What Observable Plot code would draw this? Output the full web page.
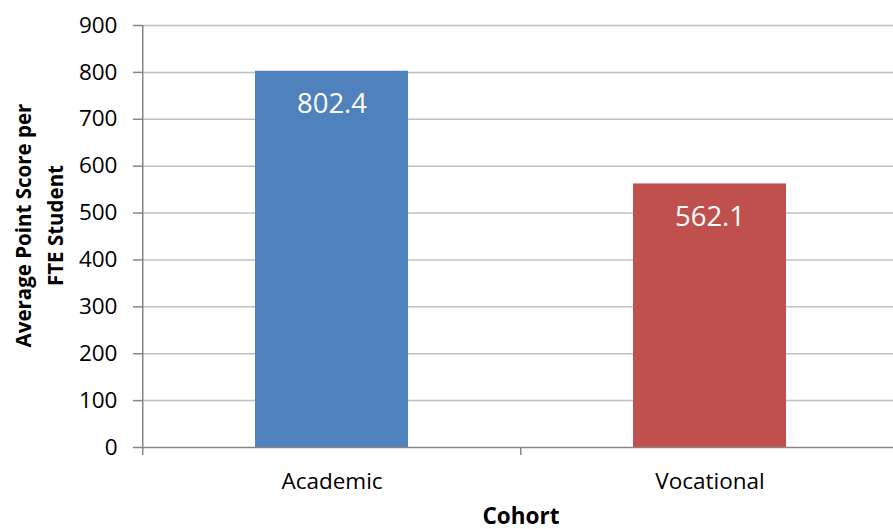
<!DOCTYPE html>
<html><head><meta charset="utf-8">
<script src="https://cdn.jsdelivr.net/npm/d3@7"></script>
<script src="https://cdn.jsdelivr.net/npm/@observablehq/plot@0.6"></script>
<style>html,body{margin:0;padding:0;background:#fff;overflow:hidden}</style>
</head><body><div id="chart"></div>
<script>
const categories = ["Academic", "Vocational"];
const values = [802.4, 562.1];
const colors = ["#4F81BD", "#C0504D"];
const yTicks = [0, 100, 200, 300, 400, 500, 600, 700, 800, 900];
const xTitle = "Cohort";
const yTitle = "Average Point Score per\nFTE Student";

const data = categories.map((c, i) => ({cohort: c, value: values[i]}));

const xRange = [142, 899];
const step = (xRange[1] - xRange[0]) / categories.length;
const axisGray = "#868686";

const chart = Plot.plot({
  width: 893,
  height: 529,
  marginLeft: 142,
  marginRight: 0,
  marginTop: 25,
  marginBottom: 82,
  style: {fontFamily: "'Open Sans', sans-serif", fontSize: "22.5px", color: "#000", background: "#fff"},
  x: {domain: categories, range: xRange, paddingInner: 0.596, paddingOuter: 0.298, align: 0.5, label: null},
  y: {domain: [0, 900], ticks: yTicks, label: null},
  color: {domain: categories, range: colors},
  marks: [
    Plot.ruleY(yTicks.slice(1), {stroke: "#c0c0c0", strokeWidth: 1.5}),
    Plot.barY(data, {x: "cohort", y: "value", fill: "cohort"}),
    Plot.text(data, {x: "cohort", y: "value", text: d => d.value.toFixed(1), dy: 33, fill: "#fff", fontSize: 27.5}),
    Plot.ruleY([0], {stroke: axisGray, strokeWidth: 1.5}),
    Plot.ruleX([categories[0]], {dx: -step / 2, y1: 0, y2: 900, stroke: axisGray, strokeWidth: 1.5}),
    Plot.axisY({ticks: yTicks, tickSize: 9, tickPadding: 16, stroke: axisGray, strokeWidth: 1.5, fill: "#000", label: null}),
    Plot.axisX({tickSize: 8, dx: -step / 2, tickFormat: () => "", stroke: axisGray, strokeWidth: 1.5, label: null}),
    Plot.axisX({tickSize: 0, tickPadding: 26, fill: "#000", label: null}),
    Plot.text([xTitle], {frameAnchor: "bottom", dx: 3, dy: 76, fontWeight: "bold", fontSize: 22.5}),
    Plot.text([yTitle], {frameAnchor: "left", textAnchor: "middle", rotate: -90, dx: -106, dy: -11, lineHeight: 1.55, fontWeight: "bold", fontSize: 20.5})
  ]
});
document.getElementById("chart").appendChild(chart);
</script>
</body></html>
